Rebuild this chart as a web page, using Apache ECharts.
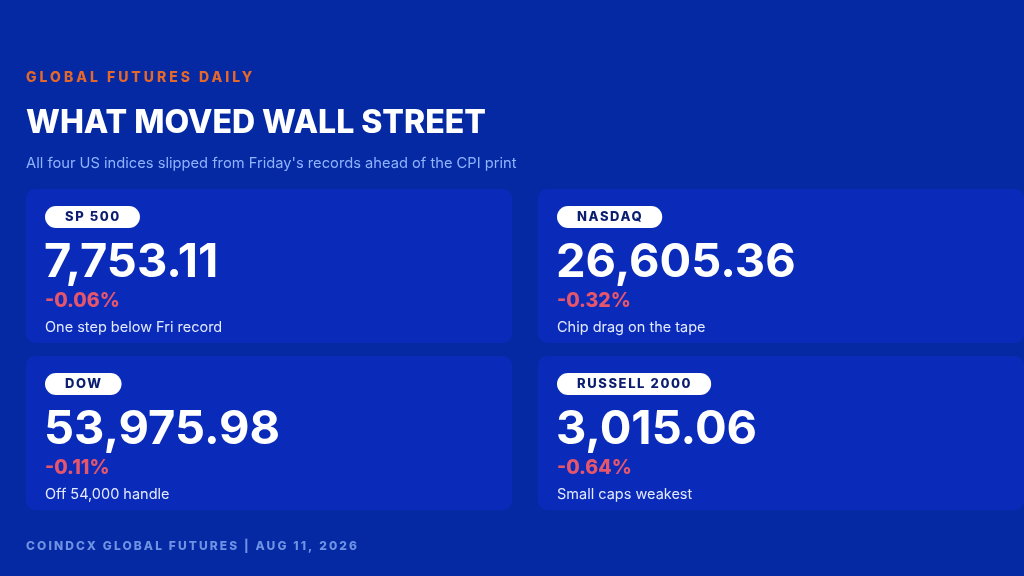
<!DOCTYPE html>
<html>
<head>
<meta charset="utf-8">
<script src="https://cdn.jsdelivr.net/npm/echarts@6/dist/echarts.min.js"></script>
<style>
  html, body { margin: 0; padding: 0; background: #0529a2; }
  #main { width: 1024px; height: 576px; }
</style>
</head>
<body>
<div id="main"></div>
<script>
// index cards
var indexNames = ['SP 500', 'NASDAQ', 'DOW', 'RUSSELL 2000'];
var indexLevels = [7753.11, 26605.36, 53975.98, 3015.06];
var indexChanges = [-0.06, -0.32, -0.11, -0.64];
var indexNotes = ['One step below Fri record', 'Chip drag on the tape', 'Off 54,000 handle', 'Small caps weakest'];

var kicker = 'GLOBAL FUTURES DAILY';
var headline = 'WHAT MOVED WALL STREET';
var deck = "All four US indices slipped from Friday's records ahead of the CPI print";
var footer = 'COINDCX GLOBAL FUTURES | AUG 11, 2026';

// letter spacing: a dummy family "spNN" in the font stack means NN/10 px tracking
(function () {
    var P = CanvasRenderingContext2D.prototype;
    if (!('letterSpacing' in P)) return;
    var ft = P.fillText, mt = P.measureText;
    function track(ctx) {
        var m = /sp(\d+)/.exec(ctx.font);
        ctx.letterSpacing = m ? (m[1] / 10) + 'px' : '0px';
    }
    P.fillText = function () { track(this); return ft.apply(this, arguments); };
    P.measureText = function () { track(this); return mt.apply(this, arguments); };
})();

var FONT = 'Inter';

function fmtLevel(v) {
    return v.toLocaleString('en-US', {minimumFractionDigits: 2, maximumFractionDigits: 2});
}
function fmtChange(v) {
    return (v > 0 ? '+' : '') + v.toFixed(2) + '%';
}

var chart = echarts.init(document.getElementById('main'), null, {renderer: 'canvas'});

var elements = [
    {type: 'rect', shape: {x: 0, y: 0, width: 1024, height: 576}, style: {fill: '#0529a2'}, silent: true},
    {type: 'text', x: 26, y: 78, style: {text: kicker, fill: '#e4672c', font: '800 14px ' + FONT + ', sp30', verticalAlign: 'middle'}},
    {type: 'text', x: 26, y: 123, style: {text: headline, fill: '#ffffff', font: '800 32px ' + FONT, verticalAlign: 'middle'}},
    {type: 'text', x: 26, y: 164, style: {text: deck, fill: '#8fb3ff', font: '14.7px ' + FONT, verticalAlign: 'middle'}},
    {type: 'text', x: 26, y: 546, style: {text: footer, fill: '#6f92e4', font: '800 12px ' + FONT + ', sp21', verticalAlign: 'middle'}}
];

indexNames.forEach(function (name, i) {
    var col = i % 2, row = Math.floor(i / 2);
    var cx = 26 + col * 512;
    var cy = 189 + row * 167;
    var padL = cx + 19;
    elements.push({
        type: 'rect',
        shape: {x: cx, y: cy, width: 486, height: 154, r: 9},
        style: {fill: '#0a2bb9'}
    });
    elements.push({
        type: 'text', x: padL, y: cy + 28,
        style: {
            text: name, fill: '#0b1d6e', font: '800 13px ' + FONT + ', sp16',
            verticalAlign: 'middle', lineHeight: 22,
            backgroundColor: '#ffffff', borderRadius: 11, padding: [0, 19, 0, 20]
        }
    });
    elements.push({
        type: 'text', x: padL - 1, y: cy + 74,
        style: {text: fmtLevel(indexLevels[i]), fill: '#ffffff', font: 'bold 47px ' + FONT, verticalAlign: 'middle'}
    });
    elements.push({
        type: 'text', x: padL, y: cy + 112,
        style: {text: fmtChange(indexChanges[i]), fill: '#e5566d', font: '800 19.5px ' + FONT, verticalAlign: 'middle'}
    });
    elements.push({
        type: 'text', x: padL, y: cy + 139,
        style: {text: indexNotes[i], fill: '#e4eaff', font: '14.5px ' + FONT, verticalAlign: 'middle'}
    });
});

chart.setOption({
    backgroundColor: '#0529a2',
    animation: false,
    graphic: {elements: elements}
});
</script>
</body>
</html>
